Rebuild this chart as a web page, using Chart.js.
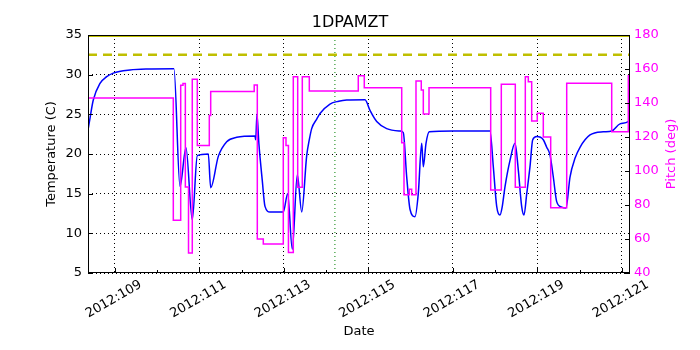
<!DOCTYPE html>
<html>
<head>
<meta charset="utf-8">
<script src="https://cdn.jsdelivr.net/npm/chart.js@4.4.0/dist/chart.umd.min.js"></script>
<style>
  body { margin: 0; background: #fff; }
  canvas { display: block; }
</style>
</head>
<body>
<canvas id="chart" width="700" height="350"></canvas>
<script>
"use strict";

// x range of the plot, in day of year 2012
const dayRange = [108.366, 121.194];
const dayTicks = [109, 110, 111, 112, 113, 114, 115, 116, 117, 118, 119, 120, 121];

// 1DPAMZT temperature (C)
const tempDays = [
  108.366, 108.413, 108.491, 108.650, 108.808, 108.964, 109.360, 109.755, 110.40,
  110.543, 110.685, 110.834, 110.953, 111.213, 111.270, 111.450, 111.649, 111.885,
  112.318, 112.335, 112.365, 112.41, 112.49, 112.555, 112.673, 112.988, 113.092,
  113.201, 113.320, 113.424, 113.542, 113.604, 113.660, 113.78, 113.857, 114.093,
  114.30, 114.489, 114.922, 115.040, 115.199, 115.435, 115.750, 115.828, 115.909,
  115.988, 116.105, 116.183, 116.264, 116.302, 116.366, 116.444, 117.0, 117.880,
  117.959, 118.039, 118.117, 118.165, 118.236, 118.354, 118.473, 118.55, 118.63,
  118.685, 118.75, 118.827, 118.891, 118.986, 119.142, 119.222, 119.300, 119.379,
  119.459, 119.578, 119.679, 119.774, 119.892, 120.011, 120.248, 120.562, 120.761,
  120.957, 121.154, 121.194
];
const tempValues = [
  23.0, 24.5, 26.8, 28.9, 29.75, 30.2, 30.6, 30.72, 30.75,
  15.9, 20.8, 11.7, 19.8, 20.0, 15.75, 19.7, 21.55, 22.1,
  22.27, 21.8, 25.0, 21.35, 16.7, 13.4, 12.7, 12.7, 15.0,
  8.0, 17.4, 12.7, 19.8, 21.8, 23.2, 24.4, 25.1, 26.3,
  26.65, 26.8, 26.85, 25.5, 24.1, 23.2, 22.9, 22.7, 17.1,
  13.0, 12.1, 15.0, 21.35, 18.4, 21.35, 22.8, 22.9, 22.9,
  18.4, 13.4, 12.3, 13.2, 15.9, 19.2, 21.35, 18.0, 13.4,
  12.3, 15.0, 18.4, 21.8, 22.2, 21.8, 20.85, 19.9, 17.1,
  14.0, 13.3, 13.2, 17.1, 19.45, 20.85, 22.4, 22.8, 22.9,
  23.8, 24.1, 24.7
];

// pitch (deg), each value holds until the next day listed
const pitchDays = [
  108.366, 110.385, 110.560, 110.614, 110.67, 110.745, 110.834, 110.953, 111.237, 111.270,
  112.30, 112.373, 112.515, 112.988, 113.052, 113.11, 113.225, 113.329, 113.438, 113.604,
  114.763, 114.905, 115.791, 115.845, 115.970, 116.027, 116.129, 116.254, 116.302, 116.437,
  117.897, 118.148, 118.479, 118.716, 118.787, 118.867, 119.000, 119.142, 119.317, 119.696,
  120.761, 121.154, 121.194
];
const pitchValues = [
  143, 71, 150.5, 151.5, 90.6, 51.8, 154, 115, 132.6, 146.7,
  150.6, 60, 57, 119.6, 115, 52, 155.5, 90.4, 155.5, 147,
  156, 149, 116.6, 86, 89.2, 86, 153, 147.6, 133.5, 149,
  88.8, 151, 90.4, 155.5, 152.5, 129.4, 134, 120, 78.4, 151.6,
  123.1, 156, 156
];

// limit lines and marker
const upperLimit = 35.0;
const planningLimit = 32.5;
const markerDay = 114.21;

const tempTicks = [5, 10, 15, 20, 25, 30, 35];
const pitchTicks = [40, 60, 80, 100, 120, 140, 160, 180];

Chart.defaults.font.family = "'DejaVu Sans', sans-serif";
Chart.defaults.font.size = 13;
Chart.defaults.color = "#000";

function flatLine(level) {
  return [{ x: dayRange[0], y: level }, { x: dayRange[1], y: level }];
}

// matplotlib style: ticks pointing inward, black frame, pitch label reading upward
const axesDecor = {
  id: "axesDecor",
  afterDraw(chart) {
    const { ctx, chartArea: a, scales } = chart;
    ctx.save();
    ctx.strokeStyle = "#000";
    ctx.lineWidth = 1;
    ctx.strokeRect(a.left + 0.5, a.top + 0.5, a.right - a.left - 1, a.bottom - a.top - 1);
    ctx.beginPath();
    scales.x.ticks.forEach(t => {
      const px = Math.round(scales.x.getPixelForValue(t.value)) + 0.5;
      const len = t.value % 2 === 1 ? 5 : 3;
      ctx.moveTo(px, a.bottom);
      ctx.lineTo(px, a.bottom - len);
    });
    scales.y.ticks.forEach(t => {
      const py = Math.round(scales.y.getPixelForValue(t.value)) + 0.5;
      ctx.moveTo(a.left, py);
      ctx.lineTo(a.left + 5, py);
    });
    scales.y1.ticks.forEach(t => {
      const py = Math.round(scales.y1.getPixelForValue(t.value)) + 0.5;
      ctx.moveTo(a.right, py);
      ctx.lineTo(a.right - 5, py);
    });
    ctx.stroke();

    ctx.translate(672, (a.top + a.bottom) / 2);
    ctx.rotate(-Math.PI / 2);
    ctx.fillStyle = "#ff00ff";
    ctx.font = "13px 'DejaVu Sans', sans-serif";
    ctx.textAlign = "center";
    ctx.textBaseline = "middle";
    ctx.fillText("Pitch (deg)", 0, 0);
    ctx.restore();
  }
};

const ctx = document.getElementById("chart").getContext("2d");

const chart = new Chart(ctx, {
  type: "line",
  data: {
    datasets: [
      {
        label: "Pitch",
        yAxisID: "y1",
        data: pitchDays.map((d, i) => ({ x: d, y: pitchValues[i] })),
        borderColor: "#ff00ff",
        borderWidth: 1.5,
        stepped: true,
        pointRadius: 0,
        order: 0
      },
      {
        label: "1DPAMZT",
        yAxisID: "y",
        data: tempDays.map((d, i) => ({ x: d, y: tempValues[i] })),
        borderColor: "#0000ff",
        borderWidth: 1.5,
        cubicInterpolationMode: "monotone",
        pointRadius: 0,
        order: 1
      },
      {
        label: "planning limit",
        yAxisID: "y",
        data: flatLine(planningLimit),
        borderColor: "#bfbf00",
        borderWidth: 2.5,
        borderDash: [9, 6],
        pointRadius: 0,
        order: 2
      },
      {
        label: "limit",
        yAxisID: "y",
        data: flatLine(upperLimit),
        borderColor: "#bfbf00",
        borderWidth: 4,
        pointRadius: 0,
        order: 2
      },
      {
        label: "now",
        yAxisID: "y",
        data: [{ x: markerDay, y: tempTicks[0] }, { x: markerDay, y: tempTicks[tempTicks.length - 1] }],
        borderColor: "#008000",
        borderWidth: 1,
        borderDash: [1, 3],
        pointRadius: 0,
        order: 3
      }
    ]
  },
  options: {
    responsive: false,
    animation: false,
    devicePixelRatio: 1,
    layout: { padding: 0 },
    plugins: {
      legend: { display: false },
      tooltip: { enabled: false },
      title: {
        display: true,
        text: "1DPAMZT",
        font: { size: 16, weight: "normal" },
        color: "#000",
        padding: { top: 13, bottom: 2.8 }
      }
    },
    scales: {
      x: {
        type: "linear",
        min: dayRange[0],
        max: dayRange[1],
        afterBuildTicks: scale => {
          scale.ticks = dayTicks.map(v => ({ value: v }));
        },
        afterFit: scale => {
          scale.height = 77;
        },
        ticks: {
          autoSkip: false,
          minRotation: 30,
          maxRotation: 30,
          labelOffset: 26,
          padding: 4,
          callback: v => (v % 2 === 1 ? "2012:" + v : "")
        },
        grid: {
          drawTicks: false,
          color: c => (c.tick && c.tick.value % 2 === 1 ? "#000" : "rgba(0,0,0,0)"),
          lineWidth: 1
        },
        border: { display: false, dash: [1, 3] },
        title: {
          display: true,
          text: "Date",
          padding: { top: 0, bottom: 11 }
        }
      },
      y: {
        position: "left",
        min: tempTicks[0],
        max: tempTicks[tempTicks.length - 1],
        afterBuildTicks: scale => {
          scale.ticks = tempTicks.map(v => ({ value: v }));
        },
        afterFit: scale => {
          scale.width = 88;
        },
        ticks: { padding: 6 },
        grid: { drawTicks: false, color: "#000", lineWidth: 1 },
        border: { display: false, dash: [1, 3] },
        title: {
          display: true,
          text: "Temperature (C)",
          padding: { top: 44, bottom: 0 }
        }
      },
      y1: {
        position: "right",
        min: pitchTicks[0],
        max: pitchTicks[pitchTicks.length - 1],
        afterBuildTicks: scale => {
          scale.ticks = pitchTicks.map(v => ({ value: v }));
        },
        afterFit: scale => {
          scale.width = 70;
        },
        ticks: { padding: 4, color: "#ff00ff" },
        grid: { display: false, drawTicks: false },
        border: { display: false }
      }
    }
  },
  plugins: [axesDecor]
});
</script>
</body>
</html>
